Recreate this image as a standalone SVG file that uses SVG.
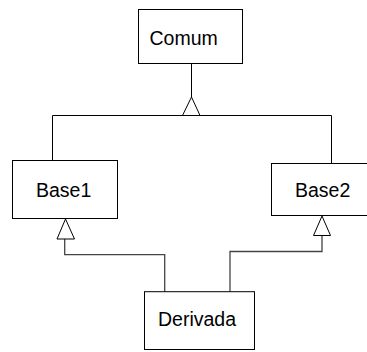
<svg xmlns="http://www.w3.org/2000/svg" width="367" height="352" viewBox="0 0 367 352">
<style>
.box{fill:#fff;stroke:#000;stroke-width:1}
.lbl{font-family:"Liberation Sans",Arial,sans-serif;font-size:19.5px;fill:#000}
.ln{fill:none;stroke:#000;stroke-width:1}
.ln2{fill:none;stroke:#444;stroke-width:1.3}
.tri{fill:#fff;stroke:#000;stroke-width:1}
</style>
<rect width="367" height="352" fill="#fff"/>
<g id="connectors">
<path class="ln" d="M191.5 63.5V97"/>
<path class="ln" d="M52.5 160V115.5H331.5V163.5"/>
<polygon class="tri" points="191.5,97 182.5,115.5 200,115.5"/>
<path class="ln2" d="M164.7 291.7V254.7H64.7V239"/>
<polygon class="tri" points="65.5,219 57,239 74.5,239"/>
<path class="ln2" d="M230 291.7V251.5H322V235.5"/>
<polygon class="tri" points="322,216 313.5,235.5 330.5,235.5"/>
</g>
<g id="Comum">
<rect class="box" x="138.5" y="9.5" width="104" height="54"/>
<text class="lbl" x="149.5" y="45">Comum</text>
</g>
<g id="Base1">
<rect class="box" x="12.5" y="160.5" width="105" height="58"/>
<text class="lbl" x="36" y="196.5">Base1</text>
</g>
<g id="Base2">
<rect class="box" x="271.5" y="163.5" width="100" height="52"/>
<text class="lbl" x="295" y="196.5">Base2</text>
</g>
<g id="Derivada">
<rect class="box" x="144.5" y="291.7" width="110" height="57.8"/>
<text class="lbl" x="158" y="326">Derivada</text>
</g>
</svg>
